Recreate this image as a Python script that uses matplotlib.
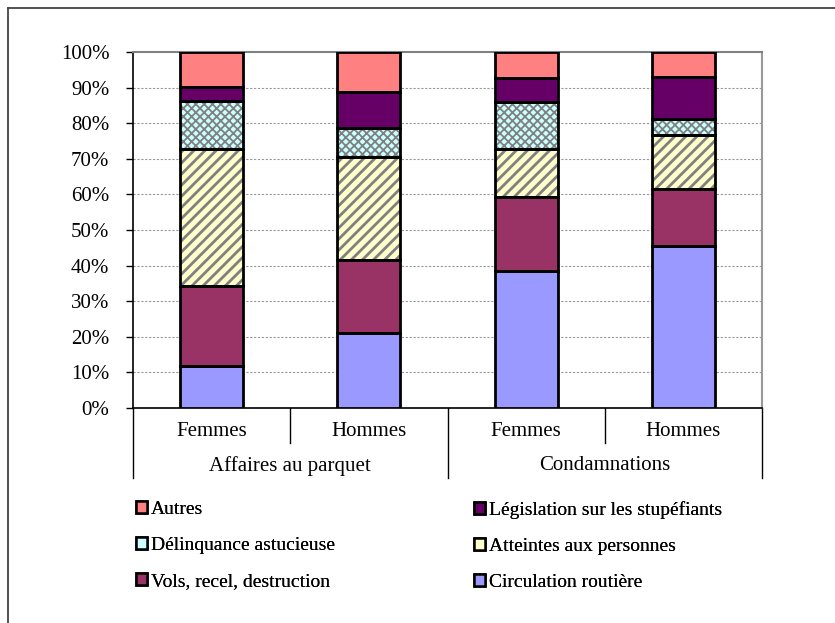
import matplotlib
matplotlib.use("Agg")
import matplotlib.pyplot as plt
import matplotlib.transforms as mtransforms
from matplotlib.patches import Patch
from matplotlib.lines import Line2D
import numpy as np

plt.rcParams['font.family'] = ['Liberation Serif', 'DejaVu Serif']

subcats = ["Femmes", "Hommes", "Femmes", "Hommes"]
groups = ["Affaires au parquet", "Condamnations"]

series = ["Circulation routière", "Vols, recel, destruction", "Atteintes aux personnes",
          "Délinquance astucieuse", "Législation sur les stupéfiants", "Autres"]
circulation = [11.8, 21.2, 38.5, 45.5]
vols = [22.5, 20.4, 20.7, 16.0]
atteintes = [38.5, 29.0, 13.6, 15.2]
delinquance = [13.4, 8.1, 13.2, 4.5]
legislation = [3.9, 10.2, 6.8, 11.9]
autres = [9.9, 11.1, 7.2, 6.9]
values = [circulation, vols, atteintes, delinquance, legislation, autres]

facecolors = ["#9999FF", "#993366", "#FFFFCC", "#CCFFFF", "#660066", "#FF8080"]
hatches = [None, None, "///", "xxxx", None, None]

W, H = 835, 623
fig = plt.figure(figsize=(W/100, H/100), dpi=100)
ax = fig.add_axes([133/W, 1-408/H, (762-133)/W, (408-52)/H])

FS = 15
x = np.arange(len(subcats))
bottom = np.zeros(len(subcats))
for vals, fc, h in zip(values, facecolors, hatches):
    vals = np.array(vals)
    if h:
        plt.rcParams['hatch.linewidth'] = 2.0 if h == "///" else 1.3
        ax.bar(x, vals, 0.4, bottom=bottom, color=fc, hatch=h, edgecolor="#808080",
               linewidth=0, zorder=3)
    else:
        ax.bar(x, vals, 0.4, bottom=bottom, color=fc, linewidth=0, zorder=3)
    ax.bar(x, vals, 0.4, bottom=bottom, fill=False, edgecolor="black", linewidth=2, zorder=4)
    bottom += vals

ax.set_xlim(-0.5, 3.5)
ax.set_ylim(0, 100)
ax.set_yticks(np.arange(0, 101, 10))
ax.set_yticklabels([f"{v}%" for v in range(0, 101, 10)], fontsize=FS)
ax.tick_params(axis='y', direction='out', length=5, width=1, pad=12, colors='black')
ax.set_xticks([])
for yv in range(10, 100, 10):
    ax.axhline(yv, color="#999999", linestyle=(0, (2, 1.5)), linewidth=0.8, zorder=1)
ax.spines['top'].set_color("#808080")
ax.spines['top'].set_linewidth(1.5)
ax.spines['right'].set_color("#999999")
ax.spines['right'].set_linewidth(1.5)
ax.spines['left'].set_color("black")
ax.spines['bottom'].set_color("black")
ax.spines['left'].set_linewidth(1.2)
ax.spines['bottom'].set_linewidth(1.2)

def fy(py):
    return 1 - py/H
def fx(px):
    return px/W

bt = mtransforms.blended_transform_factory(ax.transData, fig.transFigure)
for i, s in enumerate(subcats):
    ax.text(i, fy(432), s, transform=bt, ha='center', va='center', fontsize=FS)
for g, c in zip(groups, [0.5, 2.5]):
    ax.text(c, fy(466), g, transform=bt, ha='center', va='center', fontsize=FS)

sep = [(-0.5, 478), (0.5, 443), (1.5, 478), (2.5, 443), (3.5, 478)]
for xv, yend in sep:
    ax.add_line(Line2D([xv, xv], [fy(408), fy(yend)], transform=bt, color='black',
                       linewidth=1, clip_on=False))

# legend (two columns, row-wise order)
def handle(i):
    return Patch(facecolor=facecolors[i], edgecolor='black', linewidth=1.8)

col1 = [5, 3, 1]
col2 = [4, 2, 0]
for col, px in [(col1, 136), (col2, 474)]:
    leg = fig.legend([handle(i) for i in col], [series[i] for i in col],
                     loc='upper left', bbox_to_anchor=(fx(px), fy(501)), frameon=False,
                     fontsize=14, handlelength=0.55, handleheight=0.55, handletextpad=0.2,
                     labelspacing=0.97, borderaxespad=0, borderpad=0)
    fig.add_artist(leg)

fig.add_artist(Line2D([fx(8), fx(8)], [fy(8), 0], transform=fig.transFigure, color='#444444', linewidth=1.3))
fig.add_artist(Line2D([fx(8), 1], [fy(8), fy(8)], transform=fig.transFigure, color='#444444', linewidth=1.3))

fig.savefig("out.png", dpi=100)
